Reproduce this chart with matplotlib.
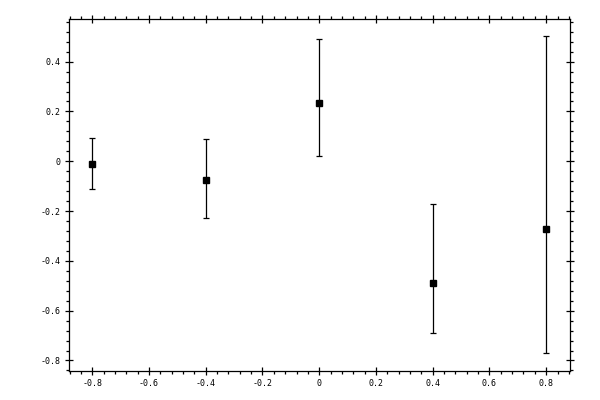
import matplotlib
matplotlib.use('Agg')
import matplotlib.pyplot as plt
from matplotlib.ticker import MultipleLocator, FuncFormatter

# values
x_vals = [-0.8, -0.4, 0.0, 0.4, 0.8]
y_vals = [-0.012, -0.076, 0.232, -0.488, -0.272]
err_lo = [0.100, 0.152, 0.212, 0.200, 0.496]
err_hi = [0.104, 0.164, 0.258, 0.316, 0.776]

params = {'font.family': 'DejaVu Sans Mono',
          'font.size': 6,
          'axes.linewidth': 0.9,
          'xtick.labelsize': 6,
          'ytick.labelsize': 6,
          }
plt.rcParams.update(params)

fig = plt.figure(figsize=(6, 4), dpi=100)
ax = fig.add_axes([69/600, 1 - 370.7/400, (570.3 - 69)/600, (370.7 - 19.3)/400])

ax.errorbar(x_vals, y_vals, yerr=[err_lo, err_hi], fmt='s', color='black',
            ms=5, elinewidth=0.9, capsize=2, capthick=0.9)

ax.set_xlim(-0.882, 0.885)
ax.set_ylim(-0.841, 0.570)

ax.xaxis.set_major_locator(MultipleLocator(0.2))
ax.xaxis.set_minor_locator(MultipleLocator(0.04))
ax.yaxis.set_major_locator(MultipleLocator(0.2))
ax.yaxis.set_minor_locator(MultipleLocator(0.04))

def fmt(v, pos):
    if abs(v) < 1e-9:
        return '0'
    return '%.1f' % v

ax.xaxis.set_major_formatter(FuncFormatter(fmt))
ax.yaxis.set_major_formatter(FuncFormatter(fmt))

ax.tick_params(which='major', direction='inout', length=5.8, width=0.9,
               top=True, right=True, pad=3)
ax.tick_params(which='minor', direction='out', length=2.5, width=0.9,
               top=True, right=True)

plt.savefig('out.png', dpi=100)
